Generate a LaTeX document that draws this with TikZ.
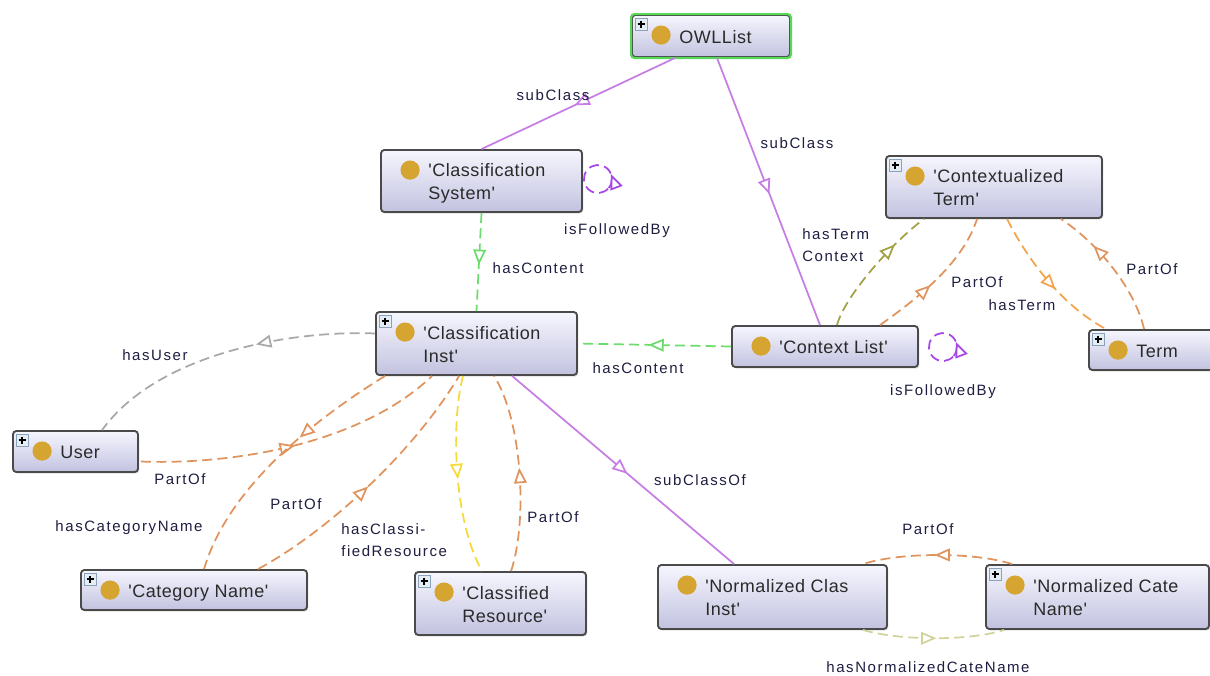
\documentclass[tikz,border=0pt]{standalone}
\usepackage{fontspec}
\setmainfont{Liberation Sans}
\newfontfamily\boxfont[LetterSpace=3,Ligatures=TeXOff]{Liberation Sans}
\newfontfamily\edgefont[LetterSpace=10.5,Ligatures=TeXOff]{Liberation Sans}
\usetikzlibrary{arrows.meta,decorations.markings,shadows,calc}

\definecolor{boxtop}{HTML}{F6F6FE}
\definecolor{boxbot}{HTML}{C2C2E0}
\definecolor{boxline}{HTML}{4A4A4A}
\definecolor{owlgreen}{HTML}{58D858}
\definecolor{dotgold}{HTML}{D6A431}
\definecolor{plusfill}{HTML}{E4ECF4}
\definecolor{plusline}{HTML}{8AA2BC}
\definecolor{boxtext}{HTML}{2A2A2A}
\definecolor{edgetext}{HTML}{1E1E42}
\definecolor{subcls}{HTML}{C67DE4}
\definecolor{loopcol}{HTML}{A646E6}
\definecolor{contentcol}{HTML}{6CDC6C}
\definecolor{partcol}{HTML}{E0935C}
\definecolor{rescol}{HTML}{F4DA3A}
\definecolor{ctxcol}{HTML}{A2A244}
\definecolor{usercol}{HTML}{A8A8A8}
\definecolor{termcol}{HTML}{F2A34C}
\definecolor{normcol}{HTML}{D2D29C}

\tikzset{
  classbox/.style={draw=boxline, line width=1.4pt, rounded corners=2.5pt,
    top color=boxtop, bottom color=boxbot, inner sep=0pt,
    drop shadow={shadow xshift=1pt, shadow yshift=-1.2pt, opacity=0.25}},
  boxlabel/.style={anchor=west, inner sep=0pt, align=left, text=boxtext,
    font=\boxfont\fontsize{13.5}{17.25}\selectfont},
  edgelabel/.style={inner sep=0pt, text=edgetext,
    font=\edgefont\fontsize{11.25}{16.5}\selectfont},
  link/.style={line width=1.3pt},
  dlink/.style={link, dash pattern=on 7.5pt off 4pt},
  tip at/.style={postaction={decorate}, decoration={markings,
    mark=at position #1 with {\arrow{Triangle[length=11.5pt, width=9.5pt, fill=white]}}}}
}

% small "expand" icon in the top left corner of a class box
\newcommand{\plusicon}[1]{%
  \draw[plusline, fill=plusfill, line width=0.7pt]
    ($(#1.north west)+(4,4)$) rectangle ($(#1.north west)+(16,16)$);
  \draw[black, line width=0.9pt]
    ($(#1.north west)+(6.5,10)$) -- ($(#1.north west)+(13.5,10)$)
    ($(#1.north west)+(10,6.5)$) -- ($(#1.north west)+(10,13.5)$);
}

% class box: name, centre x, centre y, width, height, text, icon flag
\newcommand{\owlclass}[7]{%
  \node[classbox, minimum width=#4*0.75pt, minimum height=#5*0.75pt] (#1) at (#2,#3) {};
  \fill[dotgold] ($(#1.north west)+(30,21)$) circle[radius=7.2pt];
  \node[boxlabel] (#1-text) at ($(#1.west)+(48,2.5)$) {#6};
  \ifnum#7=1 \plusicon{#1}\fi
}

\begin{document}
\begin{tikzpicture}[x=0.75pt, y=-0.75pt]
\useasboundingbox (0,0) rectangle (1210,675);
\fill[white] (0,0) rectangle (1210,675);
\clip (0,0) rectangle (1210,675);

% ---------- classes ----------
\owlclass{owl}{711}{36}{158}{42}{\strut OWLList}{1}
\draw[owlgreen, line width=1.6pt, rounded corners=2.5pt] (owl.north west) rectangle (owl.south east);
\owlclass{cs}{481.5}{181}{201}{62}{\strut'Classification\\\strut System'}{0}
\owlclass{ci}{476.5}{343.5}{201}{63}{\strut'Classification\\\strut Inst'}{1}
\owlclass{user}{75.5}{451.5}{125}{41}{\strut User}{1}
\owlclass{cat}{194}{590}{226}{40}{\strut'Category Name'}{1}
\owlclass{cres}{500.5}{603.5}{171}{63}{\strut'Classified\\\strut Resource'}{1}
\owlclass{nci}{772.5}{597}{229}{64}{\strut'Normalized Clas\\\strut Inst'}{0}
\owlclass{ncn}{1097.5}{597}{223}{64}{\strut'Normalized Cate\\\strut Name'}{1}
\owlclass{ct}{994}{187}{216}{62}{\strut'Contextualized\\\strut Term'}{1}
\owlclass{cl}{825}{346.5}{186}{41}{\strut'Context List'}{0}
\owlclass{term}{1152.5}{350}{127}{40}{\strut Term}{1}

% ---------- subclass links ----------
\draw[subcls, link, tip at=0.52] ($(owl.south west)+(44,0)$) -- (cs.north);
\draw[subcls, link, tip at=0.51] ($(owl.south)+(6,0)$) -- ($(cl.north)+(-5,0)$);
\draw[subcls, link, tip at=0.52] ($(ci.south west)+(137,0)$) -- ($(nci.north west)+(77,0)$);

% ---------- isFollowedBy loops ----------
\draw[loopcol, dlink, tip at=0.17] ($(cs.east)+(25.7,7)$) arc[start angle=-40, end angle=320, radius=10.5pt];
\draw[loopcol, dlink, tip at=0.17] ($(cl.east)+(34.7,9.5)$) arc[start angle=-40, end angle=320, radius=10.5pt];

% ---------- hasContent ----------
\draw[contentcol, dlink, tip at=0.53] (cs.south) -- (ci.north);
\draw[contentcol, dlink, tip at=0.54] (cl.west) -- (ci.east);

% ---------- Context List / Contextualized Term / Term ----------
\draw[ctxcol, dlink, tip at=0.72] ($(cl.north)+(12,0)$)
  .. controls (845,295) and (895,240) .. ($(ct.south west)+(39,0)$);
\draw[partcol, dlink, tip at=0.44] ($(cl.north)+(55,0)$)
  .. controls (915,300) and (962,265) .. ($(ct.south west)+(92,0)$);
\draw[termcol, dlink, tip at=0.57] ($(ct.south west)+(122,0)$)
  .. controls (1025,255) and (1060,305) .. ($(term.north west)+(18,0)$);
\draw[partcol, dlink, tip at=0.7] ($(term.north west)+(56,0)$)
  .. controls (1135,290) and (1100,245) .. ($(ct.south east)+(-42,0)$);

% ---------- around 'Classification Inst' ----------
\draw[usercol, dlink, tip at=0.4] ($(ci.west)+(0,-10)$)
  .. controls (300,330) and (160,350) .. ($(user.north west)+(90,0)$);
\draw[partcol, dlink, tip at=0.5] ($(user.east)+(2,10)$)
  .. controls (230,465) and (360,445) .. ($(ci.south west)+(57,0)$);
\draw[partcol, dlink, tip at=0.39] ($(ci.south west)+(10,0)$)
  .. controls (330,410) and (230,480) .. ($(cat.north west)+(124,0)$);
\draw[partcol, dlink, tip at=0.49] ($(cat.north west)+(178,0)$)
  .. controls (330,530) and (415,450) .. ($(ci.south west)+(84,0)$);
\draw[rescol, dlink, tip at=0.52] ($(ci.south west)+(88,0)$)
  .. controls (451,420) and (453,520) .. ($(cres.north west)+(68,0)$);
\draw[partcol, dlink, tip at=0.52] ($(cres.north west)+(97,0)$)
  .. controls (528,520) and (522,420) .. ($(ci.south west)+(119,0)$);

% ---------- normalized classes ----------
\draw[partcol, dlink, tip at=0.52] ($(ncn.north west)+(27,0)$)
  .. controls (975,552) and (900,552) .. ($(nci.north east)+(-25,0)$);
\draw[normcol, dlink, tip at=0.52] ($(nci.south east)+(-25,0)$)
  .. controls (900,641) and (970,641) .. ($(ncn.south west)+(19,0)$);

% ---------- link labels ----------
\node[edgelabel] (l-sub1) at (553,95) {subClass};
\node[edgelabel] (l-sub2) at (797,143) {subClass};
\node[edgelabel] (l-fol1) at (617,231) {isFollowedBy};
\node[edgelabel] (l-con1) at (538,268) {hasContent};
\node[edgelabel] (l-con2) at (638,368) {hasContent};
\node[edgelabel] (l-fol2) at (943,392) {isFollowedBy};
\node[edgelabel, anchor=west, align=left] (l-ctx) at (802,245) {hasTerm\\Context};
\node[edgelabel] (l-part1) at (977,282) {PartOf};
\node[edgelabel] (l-term) at (1022,305) {hasTerm};
\node[edgelabel] (l-part2) at (1152,269) {PartOf};
\node[edgelabel] (l-user) at (155,355) {hasUser};
\node[edgelabel] (l-part3) at (180,479) {PartOf};
\node[edgelabel] (l-part4) at (296,504) {PartOf};
\node[edgelabel] (l-cat) at (129,528) {hasCategoryName};
\node[edgelabel, anchor=west, align=left] (l-res) at (341,540) {hasClassi-\\fiedResource};
\node[edgelabel] (l-part5) at (553,517) {PartOf};
\node[edgelabel] (l-subof) at (700,480) {subClassOf};
\node[edgelabel] (l-part6) at (928,529) {PartOf};
\node[edgelabel] (l-norm) at (928,667) {hasNormalizedCateName};
\end{tikzpicture}
\end{document}
